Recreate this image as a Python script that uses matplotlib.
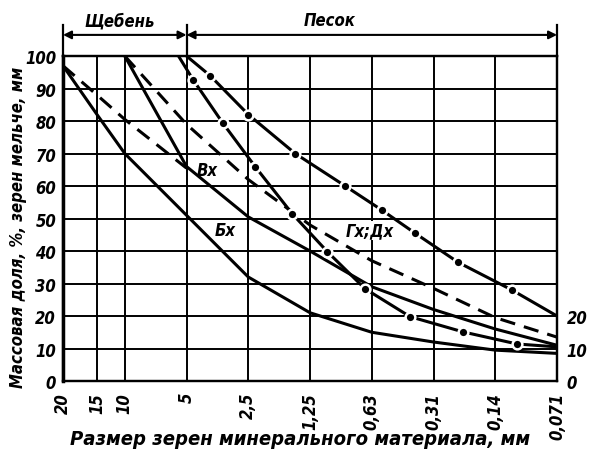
import matplotlib
matplotlib.use("Agg")
import matplotlib.pyplot as plt

plt.rcParams['font.family'] = ['Liberation Sans Narrow', 'DejaVu Sans']
plt.rcParams['font.stretch'] = 'condensed'

# sieve sizes (equally spaced on the chart, 15 sits between 20 and 10)
sieve_labels = ["20", "15", "10", "5", "2,5", "1,25", "0,63", "0,31", "0,14", "0,071"]
sieve_pos = [0, 0.55, 1, 2, 3, 4, 5, 6, 7, 8]

# Бх - solid, from 20 mm
bx_x = [0, 0.55, 1, 2, 3, 4, 5, 6, 7, 8]
bx_y = [97, 82, 70, 51, 32, 21, 15, 12, 9.5, 8.5]

# Вх - solid, from 10 mm
vx_x = [1, 2, 3, 4, 5, 6, 7, 8]
vx_y = [100, 66, 50.5, 40, 29, 22, 16, 11]

# dashed, from 20 mm
d20_x = [0, 0.55, 1, 2]
d20_y = [97, 88, 80.5, 65.5]

# dashed, from 10 mm
d10_x = [1, 2, 3, 4, 5, 6, 7, 8]
d10_y = [100, 79, 62, 48, 37, 28.5, 19.5, 13.5]

# Дх - upper line with dots
dx_x = [2, 2.38, 3.0, 3.76, 4.57, 5.17, 5.70, 6.40, 7.27, 8]
dx_y = [100, 94, 82, 70, 60, 52.5, 45.5, 36.5, 28, 20]

# Гх - lower line with dots
gx_x = [1.87, 2.11, 2.59, 3.11, 3.71, 4.28, 4.89, 5.62, 6.48, 7.35, 8]
gx_y = [100, 92.6, 79.3, 66, 51.5, 39.8, 28.4, 19.8, 15.1, 11.4, 10.5]

fig = plt.figure(figsize=(6.02, 4.64), dpi=100)
ax = fig.add_axes([0.1047, 0.1767, 0.8206, 0.7004])

ax.set_xlim(0, 8)
ax.set_ylim(0, 100)

# grid
for p in sieve_pos:
    ax.axvline(p, color='k', lw=1.4, zorder=1)
for v in range(0, 101, 10):
    ax.axhline(v, color='k', lw=1.4, zorder=1)

lw = 2.2
ax.plot(bx_x, bx_y, 'k-', lw=lw, solid_joinstyle='round', zorder=3)
ax.plot(vx_x, vx_y, 'k-', lw=lw, solid_joinstyle='round', zorder=3)
ax.plot(d20_x, d20_y, 'k', lw=lw, dashes=(5, 3), zorder=3)
ax.plot(d10_x, d10_y, 'k', lw=lw, dashes=(5, 3), zorder=3)
ax.plot(dx_x, dx_y, 'k-', lw=lw, solid_joinstyle='round', zorder=3)
ax.plot(dx_x[1:-1], dx_y[1:-1], 'o', ms=7, mfc='k', mec='white', mew=1.8, zorder=4)
ax.plot(gx_x, gx_y, 'k-', lw=lw, solid_joinstyle='round', zorder=3)
ax.plot(gx_x[1:-1], gx_y[1:-1], 'o', ms=7, mfc='k', mec='white', mew=1.8, zorder=4)

tfont = dict(fontsize=12, fontweight='bold', fontstyle='italic')
ax.text(2.33, 65, "Вх", ha='center', va='center', zorder=5, **tfont)
ax.text(2.62, 46.6, "Бх", ha='center', va='center', zorder=5, **tfont)
ax.text(4.97, 46.3, "Гх;Дх", ha='center', va='center', zorder=5,
        bbox=dict(facecolor='white', edgecolor='none', pad=0.5), **tfont)

# ticks
ax.set_xticks(sieve_pos)
ax.set_xticklabels(sieve_labels, rotation=90, fontsize=12, fontweight='bold', fontstyle='italic')
ax.set_yticks(range(0, 101, 10))
ax.set_yticklabels([str(v) for v in range(0, 101, 10)], fontsize=12, fontweight='bold', fontstyle='italic')
ax.tick_params(axis='y', length=0, pad=5)
ax.tick_params(axis='x', length=0, pad=8)

ax2 = ax.twinx()
ax2.set_ylim(0, 100)
ax2.set_yticks([0, 10, 20])
ax2.set_yticklabels(["0", "10", "20"], fontsize=12, fontweight='bold', fontstyle='italic')
ax2.tick_params(length=0, pad=7)

for a in (ax, ax2):
    for s in a.spines.values():
        s.set_linewidth(1.6)
ax.spines['left'].set_linewidth(2.5)

# brackets above the plot
for p in [0, 2, 8]:
    ax.plot([p, p], [100, 109.5], color='k', lw=1.6, clip_on=False)
for a, b in [(0, 2), (2, 8)]:
    ax.annotate('', xy=(a, 106.5), xytext=(b, 106.5), annotation_clip=False,
                arrowprops=dict(arrowstyle='<|-|>', color='k', lw=1.5,
                                shrinkA=0, shrinkB=0, mutation_scale=12))
ax.text(0.91, 111, "Щебень", ha='center', va='center', clip_on=False, **tfont)
ax.text(4.32, 111, "Песок", ha='center', va='center', clip_on=False, **tfont)

fig.text(0.498, 0.052, "Размер зерен минерального материала, мм", ha='center', va='center',
         fontsize=14.5, fontweight='bold', fontstyle='italic')
fig.text(0.03, 0.51, "Массовая доля, %, зерен мельче, мм", ha='center', va='center',
         rotation=90, fontsize=12, fontweight='bold', fontstyle='italic')

plt.savefig('out.png', dpi=100)
